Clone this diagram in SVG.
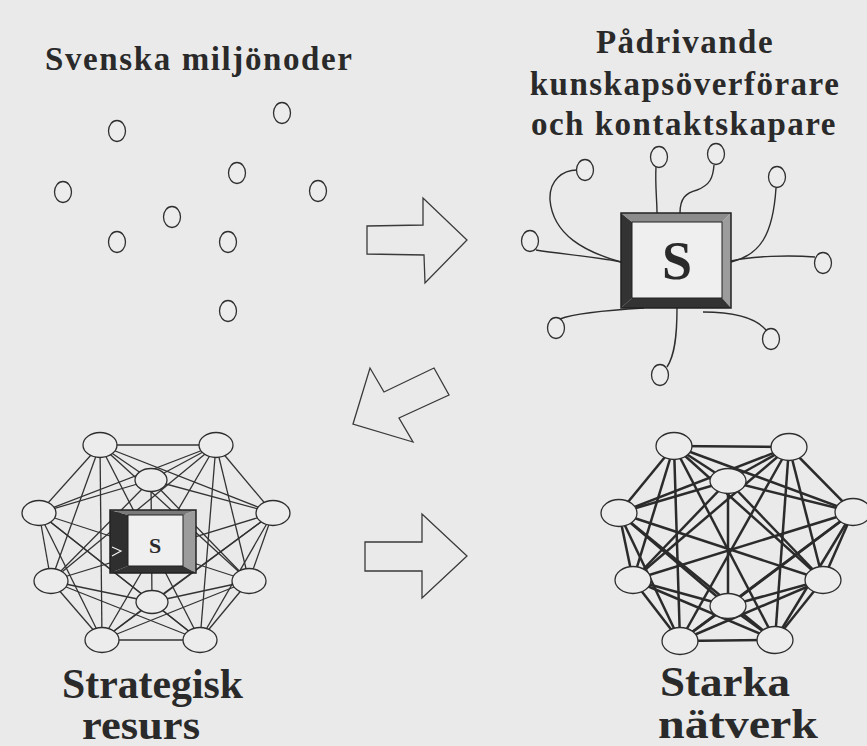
<svg xmlns="http://www.w3.org/2000/svg" width="867" height="746" viewBox="0 0 867 746">
<style>
.t{font-family:"Liberation Serif","Times New Roman",serif;font-weight:bold;fill:#2a2a2a}
.dot{fill:#ececec;stroke:#2e2e2e;stroke-width:1.3}
.tent{fill:none;stroke:#2e2e2e;stroke-width:1.4}
.thin line{stroke:#333;stroke-width:1.3}
.thick line{stroke:#2b2b2b;stroke-width:2.5}
.arrow{fill:none;stroke:#3a3a3a;stroke-width:1.3;stroke-linejoin:miter}
.dark{fill:#333}
.gray{fill:#8c8c8c}
.lgray{fill:#9c9c9c}
.inner{fill:#efefef;stroke:#222;stroke-width:1}
.outer{fill:none;stroke:#222;stroke-width:1.5}
</style>
<rect width="867" height="746" fill="#eaeaea"/>

<!-- Titles -->
<text class="t" x="45" y="70" font-size="33" textLength="307" lengthAdjust="spacing">Svenska miljönoder</text>
<text class="t" x="685" y="53" font-size="33" text-anchor="middle" letter-spacing="1.5">Pådrivande</text>
<text class="t" x="685" y="95" font-size="33" text-anchor="middle" letter-spacing="1.5">kunskapsöverförare</text>
<text class="t" x="684" y="135" font-size="33" text-anchor="middle" letter-spacing="1.5">och kontaktskapare</text>
<text class="t" x="62" y="698" font-size="43" textLength="181" lengthAdjust="spacingAndGlyphs">Strategisk</text>
<text class="t" x="82" y="739" font-size="43" textLength="118" lengthAdjust="spacingAndGlyphs">resurs</text>
<text class="t" x="660" y="696" font-size="43" textLength="130" lengthAdjust="spacingAndGlyphs">Starka</text>
<text class="t" x="658" y="738" font-size="43" textLength="160" lengthAdjust="spacingAndGlyphs">nätverk</text>

<!-- Arrows -->
<g id="arrow-right-top"><polygon class="arrow" points="367,226 423,225 423,198 467,240 425,283 424,255 367,254"/></g>
<g id="arrow-diag"><polygon class="arrow" points="353,424 370,368 384,392 434,368 449,395 399,418 413,442"/></g>
<g id="arrow-right-bottom"><polygon class="arrow" points="365,542 422,542 422,514 467,556 422,598 422,571 365,571"/></g>

<!-- Scattered nodes -->
<g id="scatter">
<g id="s1"><ellipse class="dot" cx="117" cy="131" rx="8.5" ry="10.5"/></g>
<g id="s2"><ellipse class="dot" cx="282" cy="113" rx="8.5" ry="10.5"/></g>
<g id="s3"><ellipse class="dot" cx="237" cy="173" rx="8.5" ry="10.5"/></g>
<g id="s4"><ellipse class="dot" cx="63" cy="192" rx="8.5" ry="10.5"/></g>
<g id="s5"><ellipse class="dot" cx="318" cy="191" rx="8.5" ry="10.5"/></g>
<g id="s6"><ellipse class="dot" cx="172" cy="217" rx="8.5" ry="10.5"/></g>
<g id="s7"><ellipse class="dot" cx="117" cy="242" rx="8.5" ry="10.5"/></g>
<g id="s8"><ellipse class="dot" cx="228" cy="242" rx="8.5" ry="10.5"/></g>
<g id="s9"><ellipse class="dot" cx="228" cy="311" rx="8.5" ry="10.5"/></g>
</g>

<!-- Tentacle connectors (top right) -->
<g id="tentacles">
<path class="tent" d="M621,262 C585,252 553,235 550,200 C549,180 563,170 577,170"/>
<path class="tent" d="M621,262 C590,256 560,254 536,250"/>
<path class="tent" d="M657,213 C657,200 655,185 656,167"/>
<path class="tent" d="M680,213 C680,198 686,193 697,190 C710,185 713,178 714,165"/>
<path class="tent" d="M731,262 C760,255 773,235 776,188"/>
<path class="tent" d="M731,261 C750,256 790,255 815,257"/>
<path class="tent" d="M703,312 C730,312 755,317 766,330"/>
<path class="tent" d="M677,308 C677,335 675,355 667,367"/>
<path class="tent" d="M644,308 C610,310 575,313 560,319"/>
</g>
<g id="tentacle-nodes">
<g id="t1"><ellipse class="dot" cx="585" cy="170" rx="8.5" ry="10.5"/></g>
<g id="t2"><ellipse class="dot" cx="530" cy="241" rx="8.5" ry="10.5"/></g>
<g id="t3"><ellipse class="dot" cx="659" cy="157" rx="8.5" ry="10.5"/></g>
<g id="t4"><ellipse class="dot" cx="716" cy="154" rx="8.5" ry="10.5"/></g>
<g id="t5"><ellipse class="dot" cx="777" cy="177" rx="8.5" ry="10.5"/></g>
<g id="t6"><ellipse class="dot" cx="823" cy="263" rx="8.5" ry="10.5"/></g>
<g id="t7"><ellipse class="dot" cx="771" cy="339" rx="8.5" ry="10.5"/></g>
<g id="t8"><ellipse class="dot" cx="660" cy="375" rx="8.5" ry="10.5"/></g>
<g id="t9"><ellipse class="dot" cx="556" cy="328" rx="8.5" ry="10.5"/></g>
</g>

<!-- Big S box -->
<g id="sbox-top">
<polygon class="dark" points="621,213 632,222 632,298 621,308"/>
<polygon class="gray" points="621,213 731,213 722,222 632,222"/>
<polygon class="lgray" points="731,213 731,308 722,298 722,222"/>
<polygon class="dark" points="621,308 731,308 722,298 632,298"/>
<rect class="inner" x="632" y="222" width="90" height="76"/>
<rect class="outer" x="621" y="213" width="110" height="95"/>
<text class="t" x="677" y="279" font-size="54" text-anchor="middle">S</text>
</g>

<!-- Left network connectors -->
<g id="net-left-edges" class="thin">
<line x1="100" y1="445" x2="216" y2="445"/><line x1="100" y1="445" x2="151" y2="480"/><line x1="100" y1="445" x2="39" y2="513"/><line x1="100" y1="445" x2="273" y2="513"/><line x1="100" y1="445" x2="51" y2="581"/><line x1="100" y1="445" x2="249" y2="581"/><line x1="100" y1="445" x2="102" y2="640"/><line x1="100" y1="445" x2="200" y2="640"/>
<line x1="216" y1="445" x2="151" y2="480"/><line x1="216" y1="445" x2="39" y2="513"/><line x1="216" y1="445" x2="273" y2="513"/><line x1="216" y1="445" x2="51" y2="581"/><line x1="216" y1="445" x2="249" y2="581"/><line x1="216" y1="445" x2="102" y2="640"/><line x1="216" y1="445" x2="200" y2="640"/>
<line x1="151" y1="480" x2="39" y2="513"/><line x1="151" y1="480" x2="273" y2="513"/><line x1="151" y1="480" x2="51" y2="581"/><line x1="151" y1="480" x2="249" y2="581"/><line x1="151" y1="480" x2="152" y2="602"/>
<line x1="39" y1="513" x2="51" y2="581"/><line x1="39" y1="513" x2="249" y2="581"/><line x1="39" y1="513" x2="152" y2="602"/><line x1="39" y1="513" x2="102" y2="640"/><line x1="39" y1="513" x2="200" y2="640"/>
<line x1="273" y1="513" x2="51" y2="581"/><line x1="273" y1="513" x2="249" y2="581"/><line x1="273" y1="513" x2="152" y2="602"/><line x1="273" y1="513" x2="102" y2="640"/><line x1="273" y1="513" x2="200" y2="640"/>
<line x1="51" y1="581" x2="152" y2="602"/><line x1="51" y1="581" x2="102" y2="640"/><line x1="51" y1="581" x2="200" y2="640"/>
<line x1="249" y1="581" x2="152" y2="602"/><line x1="249" y1="581" x2="102" y2="640"/><line x1="249" y1="581" x2="200" y2="640"/>
<line x1="152" y1="602" x2="102" y2="640"/><line x1="152" y1="602" x2="200" y2="640"/>
<line x1="102" y1="640" x2="200" y2="640"/>
</g>
<g id="net-left-nodes">
<g id="l1"><ellipse class="dot" cx="100" cy="445" rx="17" ry="12.5"/></g>
<g id="l2"><ellipse class="dot" cx="216" cy="445" rx="17" ry="12.5"/></g>
<g id="l3"><ellipse class="dot" cx="151" cy="480" rx="16" ry="11.5"/></g>
<g id="l4"><ellipse class="dot" cx="39" cy="513" rx="17" ry="12.5"/></g>
<g id="l5"><ellipse class="dot" cx="273" cy="513" rx="17" ry="12.5"/></g>
<g id="l6"><ellipse class="dot" cx="51" cy="581" rx="17" ry="12.5"/></g>
<g id="l7"><ellipse class="dot" cx="249" cy="581" rx="17" ry="12.5"/></g>
<g id="l8"><ellipse class="dot" cx="152" cy="602" rx="16" ry="11.5"/></g>
<g id="l9"><ellipse class="dot" cx="102" cy="640" rx="17" ry="12.5"/></g>
<g id="l10"><ellipse class="dot" cx="200" cy="640" rx="17" ry="12.5"/></g>
</g>
<g id="sbox-left">
<polygon fill="#2f2f2f" points="110,510 128,515 128,566 110,573"/>
<polygon fill="#7a7a7a" points="110,510 196,510 183,515 128,515"/>
<polygon class="lgray" points="196,510 196,573 183,566 183,515"/>
<polygon class="dark" points="110,573 196,573 183,566 128,566"/>
<rect class="inner" x="128" y="515" width="55" height="51"/>
<rect class="outer" x="110" y="510" width="86" height="63"/>
<polyline points="112,547 121,551 112,556" fill="none" stroke="#f2f2f2" stroke-width="1.2"/>
<text class="t" x="155" y="553" font-size="22" text-anchor="middle">S</text>
</g>

<!-- Right network connectors -->
<g id="net-right-edges" class="thick">
<line x1="674" y1="446" x2="789" y2="447"/><line x1="674" y1="446" x2="728" y2="481"/><line x1="674" y1="446" x2="619" y2="513"/><line x1="674" y1="446" x2="853" y2="512"/><line x1="674" y1="446" x2="633" y2="580"/><line x1="674" y1="446" x2="823" y2="580"/><line x1="674" y1="446" x2="680" y2="641"/><line x1="674" y1="446" x2="775" y2="640"/>
<line x1="789" y1="447" x2="728" y2="481"/><line x1="789" y1="447" x2="619" y2="513"/><line x1="789" y1="447" x2="853" y2="512"/><line x1="789" y1="447" x2="633" y2="580"/><line x1="789" y1="447" x2="823" y2="580"/><line x1="789" y1="447" x2="680" y2="641"/><line x1="789" y1="447" x2="775" y2="640"/>
<line x1="728" y1="481" x2="619" y2="513"/><line x1="728" y1="481" x2="853" y2="512"/><line x1="728" y1="481" x2="633" y2="580"/><line x1="728" y1="481" x2="823" y2="580"/><line x1="728" y1="481" x2="728" y2="606"/>
<line x1="619" y1="513" x2="633" y2="580"/><line x1="619" y1="513" x2="823" y2="580"/><line x1="619" y1="513" x2="728" y2="606"/><line x1="619" y1="513" x2="680" y2="641"/><line x1="619" y1="513" x2="775" y2="640"/>
<line x1="853" y1="512" x2="633" y2="580"/><line x1="853" y1="512" x2="823" y2="580"/><line x1="853" y1="512" x2="728" y2="606"/><line x1="853" y1="512" x2="680" y2="641"/><line x1="853" y1="512" x2="775" y2="640"/>
<line x1="633" y1="580" x2="728" y2="606"/><line x1="633" y1="580" x2="680" y2="641"/><line x1="633" y1="580" x2="775" y2="640"/>
<line x1="823" y1="580" x2="728" y2="606"/><line x1="823" y1="580" x2="680" y2="641"/><line x1="823" y1="580" x2="775" y2="640"/>
<line x1="728" y1="606" x2="680" y2="641"/><line x1="728" y1="606" x2="775" y2="640"/>
<line x1="680" y1="641" x2="775" y2="640"/>
</g>
<g id="net-right-nodes">
<g id="r1"><ellipse class="dot" cx="674" cy="446" rx="18" ry="13.5"/></g>
<g id="r2"><ellipse class="dot" cx="789" cy="447" rx="18" ry="13.5"/></g>
<g id="r3"><ellipse class="dot" cx="728" cy="481" rx="18" ry="12.5"/></g>
<g id="r4"><ellipse class="dot" cx="619" cy="513" rx="18" ry="13.5"/></g>
<g id="r5"><ellipse class="dot" cx="853" cy="512" rx="18" ry="13.5"/></g>
<g id="r6"><ellipse class="dot" cx="633" cy="580" rx="18" ry="13.5"/></g>
<g id="r7"><ellipse class="dot" cx="823" cy="580" rx="18" ry="13.5"/></g>
<g id="r8"><ellipse class="dot" cx="728" cy="606" rx="18" ry="12.5"/></g>
<g id="r9"><ellipse class="dot" cx="680" cy="641" rx="18" ry="13.5"/></g>
<g id="r10"><ellipse class="dot" cx="775" cy="640" rx="18" ry="13.5"/></g>
</g>
</svg>
